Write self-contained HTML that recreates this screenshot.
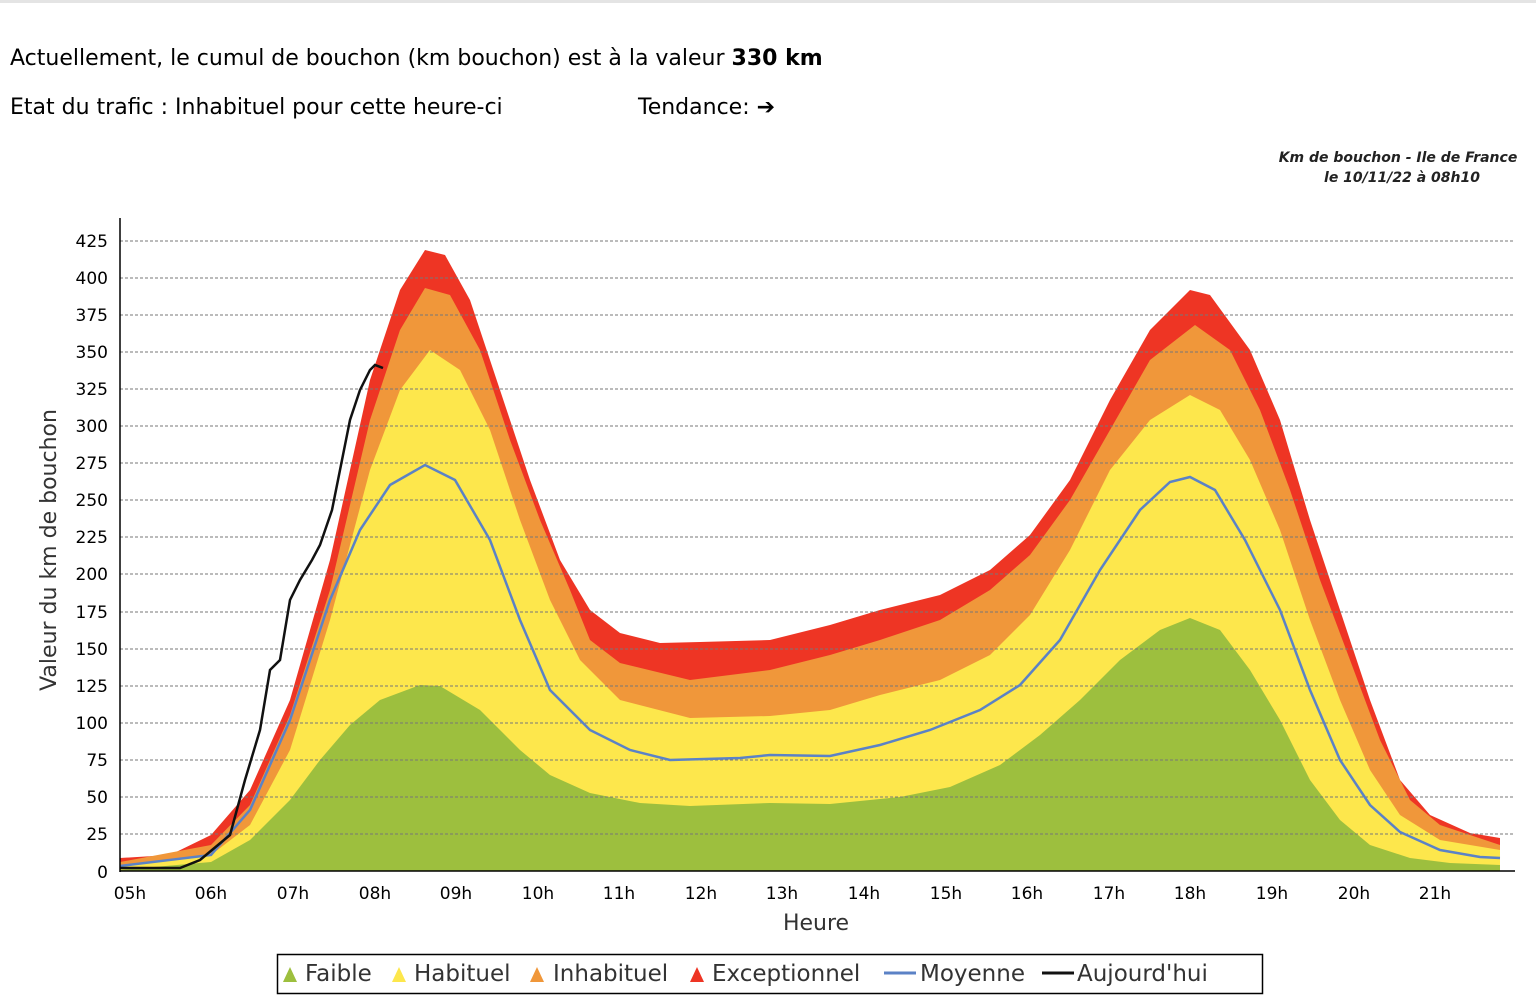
<!DOCTYPE html>
<html><head><meta charset="utf-8"><style>
body{margin:0;width:1536px;height:1003px;background:#fff;overflow:hidden;font-family:"Liberation Sans","DejaVu Sans",sans-serif;}
.bar{position:absolute;left:0;top:0;width:1536px;height:3px;background:#e4e4e4}
.t{position:absolute;left:10px;font-size:22px;color:#000;font-family:"DejaVu Sans","Liberation Sans",sans-serif}
</style></head><body>
<div class="bar"></div>
<div class="t" style="top:46px">Actuellement, le cumul de bouchon (km bouchon) est à la valeur <b>330 km</b></div>
<div class="t" style="top:95px">Etat du trafic : Inhabituel pour cette heure-ci</div>
<div class="t" style="top:95px;left:638px">Tendance: <b>➔</b></div>
<svg width="1536" height="1003" style="position:absolute;left:0;top:0" font-family="DejaVu Sans, Liberation Sans, sans-serif">
<text x="1398" y="162" font-size="14" font-style="italic" font-weight="bold" text-anchor="middle" fill="#222">Km de bouchon - Ile de France</text>
<text x="1402" y="182" font-size="14" font-style="italic" font-weight="bold" text-anchor="middle" fill="#222">le 10/11/22 à 08h10</text>
<polygon fill="#ee3524" points="120,871 120,858 170,855 211,835 250,790 290,700 330,560 370,380 400,290 425,250 445,255 470,300 500,390 530,480 560,560 590,610 620,633 660,643 700,642 770,640 830,625 880,610 940,595 990,570 1030,535 1070,480 1110,400 1150,330 1190,290 1210,295 1250,350 1280,420 1310,520 1340,610 1370,700 1400,780 1430,815 1470,833 1500,838 1500,871"/>
<polygon fill="#f0973a" points="120,871 120,862 211,845 250,805 290,715 330,590 370,420 400,330 425,288 450,295 480,350 510,440 540,520 570,590 590,640 620,663 690,680 770,670 830,655 880,640 940,620 990,590 1030,555 1070,500 1110,430 1150,360 1195,325 1230,350 1260,410 1290,490 1320,580 1350,660 1380,740 1410,800 1440,825 1500,845 1500,871"/>
<polygon fill="#fde74c" points="120,871 120,866 211,855 250,825 290,750 330,620 370,470 400,390 430,350 460,370 490,430 520,520 550,600 580,660 620,700 690,718 770,716 830,710 880,695 940,680 990,655 1030,615 1070,550 1110,470 1150,420 1190,395 1220,410 1250,460 1280,530 1310,620 1340,700 1370,770 1400,815 1440,840 1500,850 1500,871"/>
<polygon fill="#9dbf3e" points="120,871 120,870 211,862 250,840 290,800 320,760 350,725 380,700 420,685 440,686 480,710 520,750 550,775 590,793 640,803 690,806 770,803 830,804 900,797 950,787 1000,765 1040,735 1080,700 1120,660 1160,630 1190,618 1220,630 1250,670 1280,720 1310,780 1340,820 1370,845 1410,858 1450,863 1500,865 1500,871"/>
<g stroke="#777" stroke-dasharray="3,2" stroke-width="1">
<line x1="120" x2="1515" y1="241" y2="241"/><line x1="120" x2="1515" y1="278" y2="278"/><line x1="120" x2="1515" y1="315" y2="315"/><line x1="120" x2="1515" y1="352" y2="352"/><line x1="120" x2="1515" y1="389" y2="389"/><line x1="120" x2="1515" y1="426" y2="426"/><line x1="120" x2="1515" y1="463" y2="463"/><line x1="120" x2="1515" y1="500" y2="500"/><line x1="120" x2="1515" y1="537" y2="537"/><line x1="120" x2="1515" y1="574" y2="574"/><line x1="120" x2="1515" y1="612" y2="612"/><line x1="120" x2="1515" y1="649" y2="649"/><line x1="120" x2="1515" y1="686" y2="686"/><line x1="120" x2="1515" y1="723" y2="723"/><line x1="120" x2="1515" y1="760" y2="760"/><line x1="120" x2="1515" y1="797" y2="797"/><line x1="120" x2="1515" y1="834" y2="834"/>
</g>
<polyline fill="none" stroke="#5b82c6" stroke-width="2.5" points="120,866 211,855 250,810 290,720 330,600 360,530 390,485 425,465 455,480 490,540 520,620 550,690 590,730 630,750 670,760 740,758 770,755 830,756 880,745 930,730 980,710 1020,685 1060,640 1100,570 1140,510 1170,482 1190,477 1215,490 1245,540 1280,610 1310,690 1340,760 1370,805 1400,832 1440,850 1480,857 1500,858"/>
<polyline fill="none" stroke="#111" stroke-width="2.5" points="120,868 180,868 200,860 230,835 245,780 260,730 270,670 280,660 290,600 300,580 312,560 320,545 332,510 340,470 350,420 360,390 370,370 375,365 383,368"/>
<g stroke="#000" stroke-width="1.5"><line x1="120" y1="218" x2="120" y2="872"/><line x1="120" y1="871" x2="1515" y2="871"/></g>
<g font-size="17" text-anchor="end" fill="#000">
<text x="108" y="247">425</text><text x="108" y="284">400</text><text x="108" y="321">375</text><text x="108" y="358">350</text><text x="108" y="395">325</text><text x="108" y="432">300</text><text x="108" y="469">275</text><text x="108" y="506">250</text><text x="108" y="543">225</text><text x="108" y="580">200</text><text x="108" y="618">175</text><text x="108" y="655">150</text><text x="108" y="692">125</text><text x="108" y="729">100</text><text x="108" y="766">75</text><text x="108" y="803">50</text><text x="108" y="840">25</text><text x="108" y="878">0</text>
</g>
<g font-size="17" text-anchor="middle" fill="#000">
<text x="130" y="899">05h</text><text x="211" y="899">06h</text><text x="293" y="899">07h</text><text x="375" y="899">08h</text><text x="456" y="899">09h</text><text x="538" y="899">10h</text><text x="619" y="899">11h</text><text x="701" y="899">12h</text><text x="782" y="899">13h</text><text x="864" y="899">14h</text><text x="946" y="899">15h</text><text x="1027" y="899">16h</text><text x="1109" y="899">17h</text><text x="1190" y="899">18h</text><text x="1272" y="899">19h</text><text x="1354" y="899">20h</text><text x="1435" y="899">21h</text>
</g>
<text x="816" y="930" font-size="22" text-anchor="middle" fill="#333">Heure</text>
<text transform="translate(56,550) rotate(-90)" font-size="22" text-anchor="middle" fill="#333">Valeur du  km de bouchon</text>
<rect x="277.5" y="954.5" width="985" height="39" fill="#fff" stroke="#000" stroke-width="1.5"/>
<g font-size="23" fill="#333">
<path d="M283 982 L290 967 L297 982Z" fill="#9dbf3e"/><text x="305" y="981">Faible</text>
<path d="M392 982 L399 967 L406 982Z" fill="#fde74c"/><text x="414" y="981">Habituel</text>
<path d="M530 982 L537 967 L544 982Z" fill="#f0973a"/><text x="553" y="981">Inhabituel</text>
<path d="M690 982 L697 967 L704 982Z" fill="#ee3524"/><text x="712" y="981">Exceptionnel</text>
<line x1="884" y1="973" x2="916" y2="973" stroke="#5b82c6" stroke-width="3"/><text x="920" y="981">Moyenne</text>
<line x1="1042" y1="973" x2="1074" y2="973" stroke="#111" stroke-width="3"/><text x="1077" y="981">Aujourd'hui</text>
</g>
</svg>
</body></html>
